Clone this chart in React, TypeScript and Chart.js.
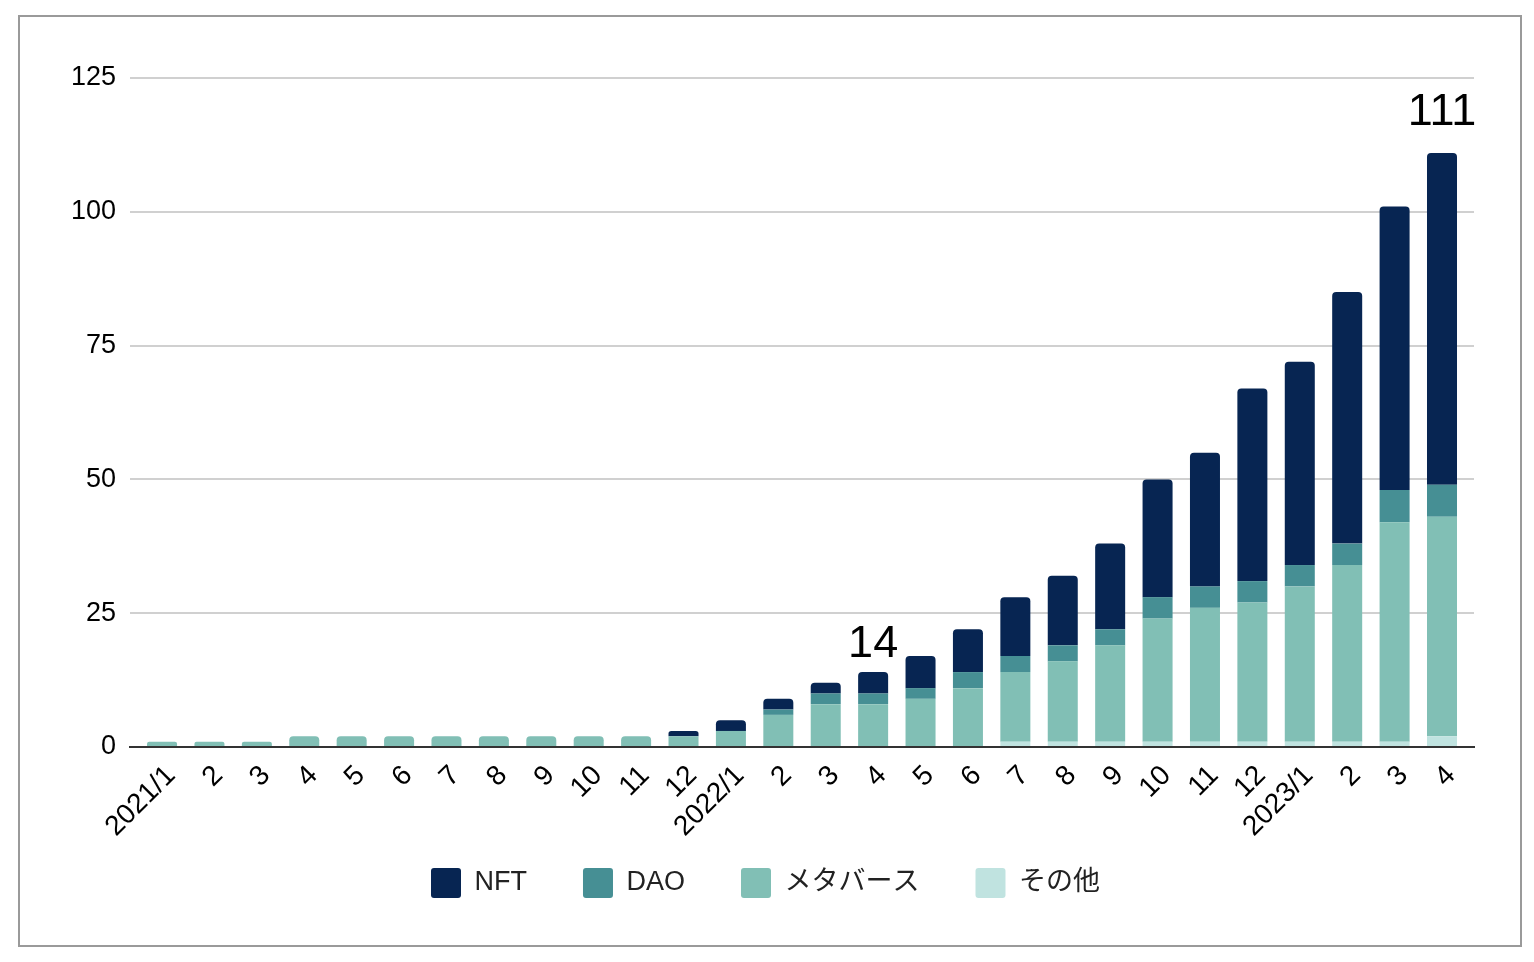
import React, { useEffect, useRef } from 'react';
import { Chart, registerables } from 'chart.js';

Chart.register(...registerables);

// ---- data ----
const categories = [
  '2021/1', '2', '3', '4', '5', '6', '7', '8', '9', '10', '11', '12',
  '2022/1', '2', '3', '4', '5', '6', '7', '8', '9', '10', '11', '12',
  '2023/1', '2', '3', '4',
];
const nftValues = [0, 0, 0, 0, 0, 0, 0, 0, 0, 0, 0, 1, 2, 2, 2, 4, 6, 8, 11, 13, 16, 22, 25, 36, 38, 47, 53, 62];
const daoValues = [0, 0, 0, 0, 0, 0, 0, 0, 0, 0, 0, 0, 0, 1, 2, 2, 2, 3, 3, 3, 3, 4, 4, 4, 4, 4, 6, 6];
const metaverseValues = [1, 1, 1, 2, 2, 2, 2, 2, 2, 2, 2, 2, 3, 6, 8, 8, 9, 11, 13, 15, 18, 23, 25, 26, 29, 33, 41, 41];
const otherValues = [0, 0, 0, 0, 0, 0, 0, 0, 0, 0, 0, 0, 0, 0, 0, 0, 0, 0, 1, 1, 1, 1, 1, 1, 1, 1, 1, 2];
const seriesNames = ['NFT', 'DAO', 'メタバース', 'その他'];
const yTickValues = [0, 25, 50, 75, 100, 125];
const annotatedIndices = [15, 27];

const FONT = "'Liberation Sans', Arial, 'Noto Sans CJK JP', sans-serif";
const COLORS = {
  nft: '#072552',
  dao: '#468f94',
  meta: '#81bfb5',
  other: '#c0e3e0',
};

const totalAt = (i: number) => nftValues[i] + daoValues[i] + metaverseValues[i] + otherValues[i];
const toPoints = (arr: number[]) => arr.map((v, i) => ({ x: i, y: v }));

const totalsLabelPlugin = {
  id: 'totalsLabel',
  afterDatasetsDraw(chart: any, _args: any, opts: any) {
    const { ctx } = chart;
    const xScale = chart.scales.x;
    const yScale = chart.scales.y;
    ctx.save();
    ctx.font = `${opts.size}px ${FONT}`;
    ctx.fillStyle = opts.color;
    ctx.textAlign = 'center';
    ctx.textBaseline = 'alphabetic';
    (opts.items as { index: number; gap: number }[]).forEach(({ index, gap }) => {
      const total = totalAt(index);
      const x = xScale.getPixelForValue(index);
      const y = yScale.getPixelForValue(total) - gap;
      ctx.fillText(String(total), x, y);
    });
    ctx.restore();
  },
};

const LEGEND_PAD = 56;

const legendFitPlugin = {
  id: 'legendFit',
  beforeInit(chart: any) {
    const legend = chart.legend;
    if (!legend) return;
    const orig = legend.fit;
    legend.fit = function fit() {
      orig.bind(legend)();
      this.height = LEGEND_PAD + 30 + 47;
    };
  },
};

export default function App() {
  const canvasRef = useRef<HTMLCanvasElement | null>(null);

  useEffect(() => {
    if (!canvasRef.current) return;
    const chart = new Chart(canvasRef.current, {
      type: 'bar',
      data: {
        datasets: [
          { label: seriesNames[3], data: toPoints(otherValues), backgroundColor: COLORS.other },
          { label: seriesNames[2], data: toPoints(metaverseValues), backgroundColor: COLORS.meta },
          { label: seriesNames[1], data: toPoints(daoValues), backgroundColor: COLORS.dao },
          { label: seriesNames[0], data: toPoints(nftValues), backgroundColor: COLORS.nft },
        ].map((d) => ({
          ...d,
          borderWidth: 0,
          borderRadius: 4,
          categoryPercentage: 1,
          barPercentage: 0.633,
        })),
      },
      options: {
        animation: false,
        responsive: true,
        maintainAspectRatio: false,
        layout: { padding: { top: 61, right: 46, left: 37, bottom: 0 } },
        plugins: {
          tooltip: { enabled: false },
          legend: {
            position: 'bottom',
            reverse: true,
            labels: {
              boxWidth: 30,
              boxHeight: 30,
              padding: LEGEND_PAD,
              color: '#222',
              useBorderRadius: true,
              borderRadius: 3,
              font: { family: FONT, size: 27 },
            },
          },
          totalsLabel: {
            size: 45,
            color: '#000',
            items: [
              { index: annotatedIndices[0], gap: 15 },
              { index: annotatedIndices[1], gap: 28 },
            ],
          },
        } as any,
        scales: {
          x: {
            type: 'linear',
            stacked: true,
            offset: false,
            min: -0.675,
            max: categories.length - 1 + 0.675,
            grid: { display: false, drawTicks: false },
            border: { display: true, color: '#333', width: 2 },
            afterBuildTicks: (scale: any) => {
              scale.ticks = categories.map((_, i) => ({ value: i }));
            },
            ticks: {
              color: '#000',
              font: { family: FONT, size: 28, lineHeight: 0.7 },
              maxRotation: 45,
              minRotation: 45,
              autoSkip: false,
              padding: 17,
              labelOffset: 9,
              callback: (v: any) => categories[v as number] ?? '',
            },
            afterFit: (scale: any) => {
              scale.height = 65;
              scale.paddingLeft = 0;
              scale.paddingRight = 0;
              scale._computeLabelArea = () => undefined;
            },
          },
          y: {
            stacked: true,
            min: 0,
            max: 125,
            afterBuildTicks: (scale: any) => {
              scale.ticks = yTickValues.map((v) => ({ value: v }));
            },
            grid: { color: '#d0d0d0', lineWidth: 2, drawTicks: false },
            border: { display: false },
            ticks: {
              color: '#000',
              font: { family: FONT, size: 27 },
              padding: 14,
            },
          },
        },
      },
      plugins: [totalsLabelPlugin, legendFitPlugin],
    });
    return () => chart.destroy();
  }, []);

  return (
    <div style={{ position: 'fixed', left: 0, top: 0, width: 1534, height: 962, background: '#fff' }}>
      <div
        style={{
          position: 'absolute',
          left: 18,
          top: 15,
          width: 1500,
          height: 928,
          border: '2px solid #9a9a9a',
        }}
      >
        <canvas ref={canvasRef} style={{ width: '100%', height: '100%' }} />
      </div>
    </div>
  );
}
